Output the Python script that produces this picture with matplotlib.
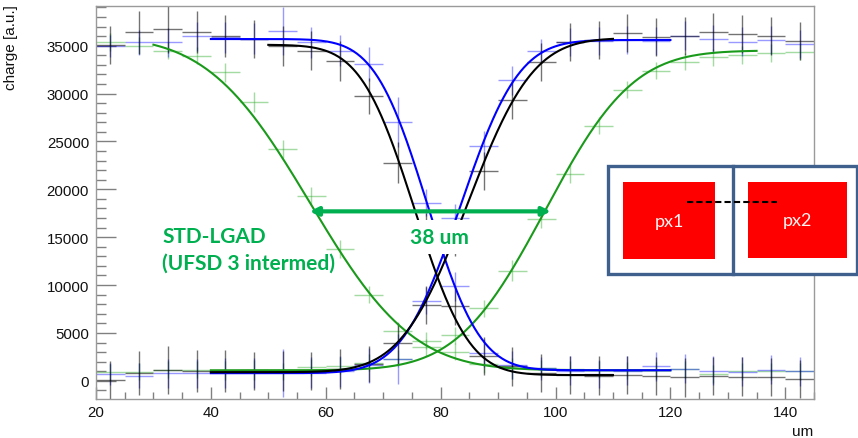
import math
import numpy as np
import matplotlib
matplotlib.use("Agg")
import matplotlib.pyplot as plt
from matplotlib.patches import Rectangle
from matplotlib.lines import Line2D
from matplotlib.ticker import MultipleLocator

# ---------------- data ----------------
bin_centers = [22.5, 27.5, 32.5, 37.5, 42.5, 47.5, 52.5, 57.5, 62.5, 67.5, 72.5, 77.5, 82.5,
               87.5, 92.5, 97.5, 102.5, 107.5, 112.5, 117.5, 122.5, 127.5, 132.5, 137.5, 142.5]
bin_half_width = 2.5

black_px1 = [35100, 36400, 36700, 36400, 36050, 35700, 35000, 34500, 33400, 29750, 22800, 15500, 7800,
             2600, 1500, 800, 600, 550, 600, 500, 350, 500, 450, 400, 200]
black_px2 = [50, 800, 1100, 1000, 1000, 1000, 1000, 1000, 1200, 1750, 3900, 7900, 15000,
             21900, 29300, 33300, 35400, 35600, 36300, 35900, 36000, 36400, 36200, 36050, 35500]
black_err = [2000, 2270, 2500, 2200, 2200, 2000, 2100, 2000, 2100, 1900, 2170, 2000, 2000,
             2000, 2000, 2000, 2000, 2000, 2000, 2000, 2000, 2000, 2000, 2000, 2000]

blue_px1 = [35000, 35350, 35350, 36000, 35870, 35750, 36570, 35350, 34480, 33080, 27020, 18600, 9860,
            2900, 1640, 1300, 1050, 700, 1050, 1500, 1250, 1050, 950, 1150, 1000]
blue_px2 = [700, 520, 800, 800, 800, 800, 800, 850, 1000, 1600, 2300, 8360, 17000,
            24550, 31400, 34480, 35400, 35500, 35600, 35500, 36050, 35700, 35420, 35600, 35180]
blue_err = [1130, 1300, 1500, 1500, 1600, 1600, 2500, 1600, 1600, 1800, 2600, 1400, 1500,
            1500, 1500, 1200, 1500, 1500, 1500, 1500, 1500, 1500, 1500, 1500, 1500]

green_px1 = [35400, 35000, 34480, 33960, 32220, 29100, 24210, 19330, 13760, 9000, 5220, 4180, 3030,
             1740, 1300, 1300, 1200, 1150, 1100, 1100, 1200, 700, 1000, 1000, 1000]
green_px2 = [880, 940, 1150, 1150, 1050, 1100, 1000, 1400, 1570, 1900, 2300, 3490, 4770,
             7560, 11490, 16900, 21600, 26640, 30400, 32390, 33330, 33790, 34030, 34240, 34380]
green_err = [900, 900, 900, 900, 1000, 1040, 900, 900, 900, 900, 900, 900, 900,
             900, 1100, 900, 900, 900, 900, 900, 900, 900, 900, 900, 900]

# fitted error-function parameters: (x_min, x_max, baseline, plateau, mean, sigma)
fit_black_px1 = (50, 110, 600, 35100, 75.5, 7.4)
fit_black_px2 = (40, 110, 900, 35800, 84.6, 9.0)
fit_blue_px1 = (40, 120, 1100, 35700, 77.7, 7.2)
fit_blue_px2 = (40, 120, 800, 35600, 83.4, 8.0)
fit_green_px1 = (30, 120, 1100, 36000, 57.3, 14.0)
fit_green_px2 = (40, 135, 1100, 34500, 98.2, 12.0)

arrow_x = (57.2, 99.2)
arrow_y = 17700
width_label = "38 um"
device_label = ["STD-LGAD", "(UFSD 3 intermed)"]

# ---------------- figure ----------------
W, H = 858, 439
fig = plt.figure(figsize=(W / 100, H / 100), dpi=100)
ax = fig.add_axes([96 / W, 1 - 400 / H, (814 - 96) / W, (400 - 7) / H])

BLACK = "#000000"
BLUE = "#0000ff"
GREEN_FIT = "#1a9a1a"
GREEN_DATA = "#33b033"
TXT_GREEN = "#00b050"

def draw_hist(vals, errs, color, alpha):
    ax.errorbar(bin_centers, vals, xerr=bin_half_width, yerr=errs, fmt="none",
                ecolor=color, elinewidth=1.0, capsize=0, alpha=alpha, zorder=2)

draw_hist(green_px1, green_err, GREEN_DATA, 0.45)
draw_hist(green_px2, green_err, GREEN_DATA, 0.45)
draw_hist(blue_px1, blue_err, BLUE, 0.40)
draw_hist(blue_px2, blue_err, BLUE, 0.40)
draw_hist(black_px1, black_err, BLACK, 0.55)
draw_hist(black_px2, black_err, BLACK, 0.55)

erf_v = np.vectorize(math.erf)

def draw_fit(p, color, falling):
    x0, x1, base, top, mu, sig = p
    xs = np.linspace(x0, x1, 400)
    z = (xs - mu) / (math.sqrt(2) * sig)
    frac = 0.5 * (1 - erf_v(z)) if falling else 0.5 * (1 + erf_v(z))
    ax.plot(xs, base + (top - base) * frac, color=color, lw=1.5, zorder=3)

draw_fit(fit_green_px1, GREEN_FIT, True)
draw_fit(fit_green_px2, GREEN_FIT, False)
draw_fit(fit_blue_px1, BLUE, True)
draw_fit(fit_blue_px2, BLUE, False)
draw_fit(fit_black_px1, BLACK, True)
draw_fit(fit_black_px2, BLACK, False)

# axes styling (ROOT look)
ax.set_xlim(20, 145)
ax.set_ylim(-1900, 39150)
ax.xaxis.set_major_locator(MultipleLocator(20))
ax.xaxis.set_minor_locator(MultipleLocator(5))
ax.yaxis.set_major_locator(MultipleLocator(5000))
ax.yaxis.set_minor_locator(MultipleLocator(1000))
for s in ax.spines.values():
    s.set_color("#9a9a9a")
    s.set_linewidth(1.0)
ax.tick_params(axis="both", which="both", direction="in", color="#808080",
               labelsize=10.8, labelcolor="#111111", top=False, right=False)
ax.tick_params(axis="y", which="major", length=14.4, width=1, pad=5)
ax.tick_params(axis="y", which="minor", length=7.2, width=1)
ax.tick_params(axis="x", which="major", length=8.6, width=1, pad=4)
ax.tick_params(axis="x", which="minor", length=5, width=1)
for lab in ax.get_xticklabels() + ax.get_yticklabels():
    lab.set_family(["Liberation Sans", "DejaVu Sans"])

ax.set_ylabel("charge [a.u.]", fontsize=11, family=["Liberation Sans", "DejaVu Sans"],
              loc="top", color="#111111")
ax.yaxis.set_label_coords(-0.109, 1.005)
ax.set_xlabel("um", fontsize=11, family=["Liberation Sans", "DejaVu Sans"],
              loc="right", color="#111111")
ax.xaxis.set_label_coords(0.9986, -0.063)

# annotations
ax.annotate("", xy=(arrow_x[0], arrow_y), xytext=(arrow_x[1], arrow_y),
            arrowprops=dict(arrowstyle="<|-|>", color=TXT_GREEN, lw=3, mutation_scale=12,
                            shrinkA=0, shrinkB=0), zorder=7)
ax.text(79.8, 15000, width_label, ha="center", va="center", fontsize=15, fontweight="bold",
        family=["Lato", "DejaVu Sans"], color=TXT_GREEN, zorder=6,
        bbox=dict(boxstyle="square,pad=0.35", facecolor="white", edgecolor="none"))
ax.text(31.6, 15150, device_label[0], ha="left", va="center", fontsize=15, fontweight="bold",
        family=["Lato", "DejaVu Sans"], color=TXT_GREEN, zorder=6)
ax.text(31.5, 12370, device_label[1], ha="left", va="center", fontsize=15, fontweight="bold",
        family=["Lato", "DejaVu Sans"], color=TXT_GREEN, zorder=6)

# inset pixel sketch (figure pixel coordinates)
def fx(x):
    return x / W

def fy(y):
    return 1 - y / H

def frect(x0, y0, x1, y1, **kw):
    fig.add_artist(Rectangle((fx(x0), fy(y1)), fx(x1) - fx(x0), fy(y0) - fy(y1),
                             transform=fig.transFigure, **kw))

frect(608.3, 166.7, 856.7, 275, facecolor="white", edgecolor="#3f5f8c", lw=2.4, zorder=10)
fig.add_artist(Line2D([fx(733.3), fx(733.3)], [fy(166.7), fy(275)], transform=fig.transFigure,
                      color="#3f5f8c", lw=2.4, zorder=11))
frect(623.3, 183.3, 715, 260, facecolor="#ff0000", edgecolor="none", zorder=11)
frect(748.3, 182.7, 846.7, 259, facecolor="#ff0000", edgecolor="none", zorder=11)
fig.text(fx(669), fy(222), "px1", ha="center", va="center", color="#fff4f4", fontsize=13,
         family=["Lato", "DejaVu Sans"], zorder=12)
fig.text(fx(797.5), fy(221), "px2", ha="center", va="center", color="#fff4f4", fontsize=13,
         family=["Lato", "DejaVu Sans"], zorder=12)
fig.add_artist(Line2D([fx(687.3), fx(776.7)], [fy(202.7), fy(202.7)], transform=fig.transFigure,
                      color="black", lw=1.5, ls=(0, (3, 1.5)), zorder=12))

fig.savefig("out.png", dpi=100)
